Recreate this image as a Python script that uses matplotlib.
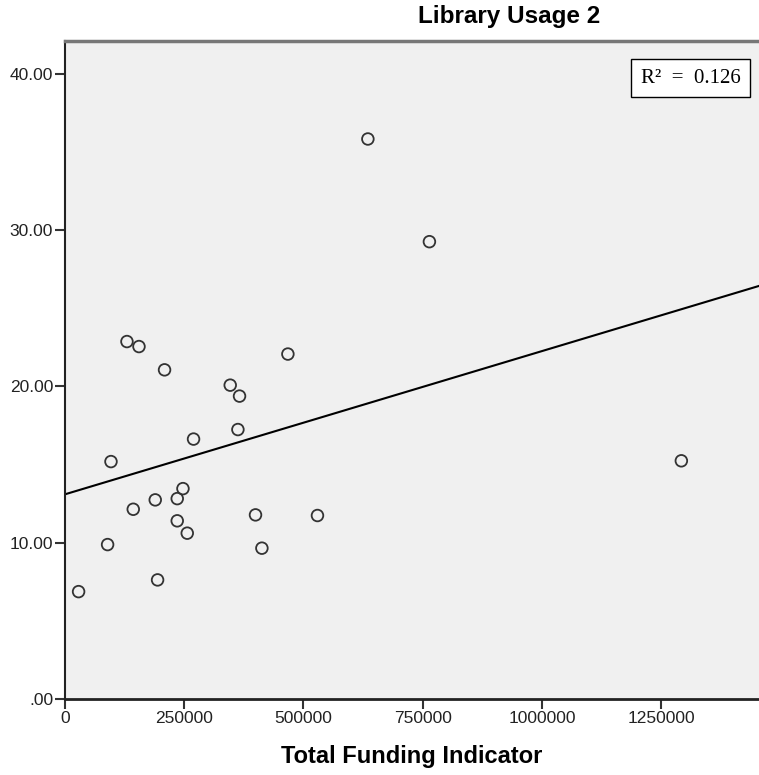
import matplotlib
matplotlib.use("Agg")
import matplotlib.pyplot as plt
import numpy as np

# data
funding = [28500, 89300, 96400, 129900, 155100, 143100, 189200, 194100,
           208700, 235300, 235300, 247300, 256300, 269500, 346400, 365900,
           362500, 399400, 412800, 467300, 529300, 635000, 764000, 1292200]
usage = [6.87, 9.88, 15.19, 22.87, 22.55, 12.14, 12.74, 7.62,
         21.06, 12.82, 11.40, 13.46, 10.61, 16.63, 20.08, 19.38,
         17.24, 11.78, 9.65, 22.07, 11.74, 35.83, 29.26, 15.24]
xticks = [0, 250000, 500000, 750000, 1000000, 1250000]
yticks = [0, 10, 20, 30, 40]
ytick_labels = [".00", "10.00", "20.00", "30.00", "40.00"]
r2_text = "R\u00b2  =  0.126"

plt.rcParams['font.family'] = ['Liberation Sans', 'DejaVu Sans']

fig = plt.figure(figsize=(7.59, 7.75), dpi=100)
ax = fig.add_axes([65/759, 1 - 699/775, 1 - 65/759, (699 - 41)/775])
ax.set_facecolor('#f0f0f0')

x = np.array(funding)
y = np.array(usage)
ax.scatter(x, y, s=70, facecolors='none', edgecolors='#333333', linewidths=1.3, zorder=3)

xmin, xmax = 0, 1455000
b, a = np.polyfit(x, y, 1)
xs = np.array([xmin, xmax])
ax.plot(xs, a + b*xs, color='black', lw=1.5, zorder=2)

ax.set_xlim(xmin, xmax)
ax.set_ylim(0, 42.1)
ax.set_xticks(xticks)
ax.set_xticklabels([str(t) for t in xticks])
ax.set_yticks(yticks)
ax.set_yticklabels(ytick_labels)
ax.tick_params(axis='both', direction='out', length=7, width=1.5, color='#333333',
               labelsize=12.5, labelcolor='#222222', pad=1.5)

ax.spines['right'].set_visible(False)
ax.spines['top'].set_color('#777777')
ax.spines['top'].set_linewidth(2.5)
ax.spines['left'].set_color('#222222')
ax.spines['left'].set_linewidth(1.5)
ax.spines['bottom'].set_color('#222222')
ax.spines['bottom'].set_linewidth(2)

ax.set_xlabel("Total Funding Indicator", fontsize=17, fontweight='bold', labelpad=14)
fig.text(509/759, 1 - 17/775, "Library Usage 2", fontsize=17.5, fontweight='bold',
         ha='center', va='center')

ax.text(0.9735, 0.958, r2_text, transform=ax.transAxes, ha='right', va='top',
        family=['Liberation Serif', 'DejaVu Serif'], fontsize=15,
        bbox=dict(boxstyle='square,pad=0.45', facecolor='white', edgecolor='black', lw=1))

fig.savefig("out.png", dpi=100)
